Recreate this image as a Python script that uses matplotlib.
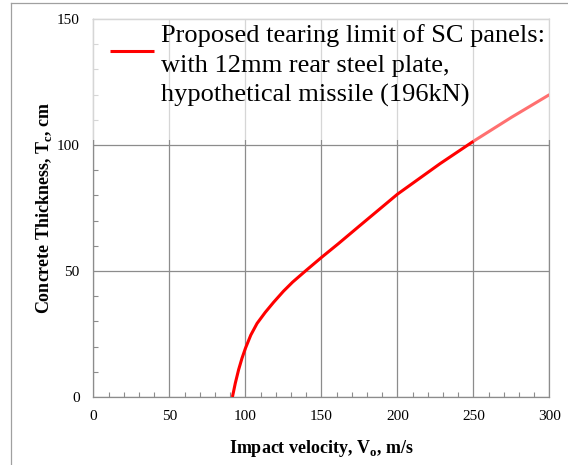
import matplotlib
matplotlib.use("Agg")
import matplotlib.pyplot as plt
from matplotlib.lines import Line2D
from matplotlib.patches import Rectangle
from matplotlib.ticker import MultipleLocator

# ---- data ----
velocity = [91.4, 93.3, 95.5, 97.7, 100, 103.5, 107.6, 113, 118.5, 125, 131, 140,
            150, 161, 175, 200, 228, 250]
thickness = [0, 5.5, 10.9, 15.4, 19.4, 24.6, 29.2, 33.6, 37.6, 42.0, 45.6, 50.3,
             55.4, 60.8, 67.9, 80.5, 92.6, 101.5]
velocity_ext = [250, 275, 300]
thickness_ext = [101.5, 111, 120]
x_ticks = [0, 50, 100, 150, 200, 250, 300]
y_ticks = [0, 50, 100, 150]
legend_lines = ["Proposed tearing limit of SC panels:",
                "with 12mm rear steel plate,",
                "hypothetical missile (196kN)"]
x_label = r"Impact velocity, V$_{\mathrm{o}}$, m/s"
y_label = r"Concrete Thickness, T$_{\mathrm{c}}$, cm"

plt.rcParams['font.family'] = ['Liberation Serif', 'DejaVu Serif']
plt.rcParams['mathtext.fontset'] = 'custom'
plt.rcParams['mathtext.rm'] = 'Liberation Serif:bold'
plt.rcParams['mathtext.bf'] = 'Liberation Serif:bold'

fig = plt.figure(figsize=(5.68, 4.65), dpi=100)
ax = fig.add_axes([0.1646, 0.1462, 0.8028, 0.8129])

gray = '#8c8c8c'
red = '#ff0000'
ax.plot(velocity, thickness, color=red, lw=2.2, solid_capstyle='butt',
        solid_joinstyle='round', zorder=3)
ax.plot(velocity_ext, thickness_ext, color='#ff7070', lw=2.2, solid_capstyle='butt', zorder=6)

ax.set_xlim(0, 300)
ax.set_ylim(0, 150)
ax.set_xticks(x_ticks)
ax.set_yticks(y_ticks)
ax.xaxis.set_minor_locator(MultipleLocator(10))
ax.yaxis.set_minor_locator(MultipleLocator(10))
ax.tick_params(which='major', length=0, labelsize=11, pad=9)
ax.tick_params(axis='y', which='major', pad=10)
ax.tick_params(which='minor', direction='in', length=3.5, width=0.8, color=gray)
ax.grid(True, which='major', color=gray, lw=0.9)
for s in ax.spines.values():
    s.set_color(gray)
    s.set_linewidth(0.9)

ax.set_xlabel(x_label, fontsize=13, fontweight='bold', labelpad=11)
ax.set_ylabel(y_label, fontsize=13, fontweight='bold', labelpad=2)

# legend: semi-transparent white background covering grid and spines
def ax_x(px):
    return (px - 93.5) / 456.0

def ax_y(py):
    return (397.0 - py) / 378.0

ax.add_patch(Rectangle((0, ax_y(140)), 1.01, 1 - ax_y(140),
                       transform=ax.transAxes, facecolor='white', edgecolor='none',
                       alpha=0.65, zorder=4, clip_on=False))
ax.add_line(Line2D([ax_x(110), ax_x(154)], [ax_y(51), ax_y(51)], transform=ax.transAxes,
                   color=red, lw=2.2, solid_capstyle='butt', zorder=5, clip_on=False))
for i, line in enumerate(legend_lines):
    ax.text(ax_x(161), ax_y(41.7 + 30 * i), line, transform=ax.transAxes,
            fontsize=19, ha='left', va='baseline', zorder=5, clip_on=False)

# outer figure frame (top and left)
fig.add_artist(Line2D([11/568, 1], [1 - 3.5/465, 1 - 3.5/465], transform=fig.transFigure,
                      color='#a0a0a0', lw=0.9))
fig.add_artist(Line2D([11/568, 11/568], [0, 1 - 3.5/465], transform=fig.transFigure,
                      color='#a0a0a0', lw=0.9))

fig.savefig('out.png', dpi=100)
